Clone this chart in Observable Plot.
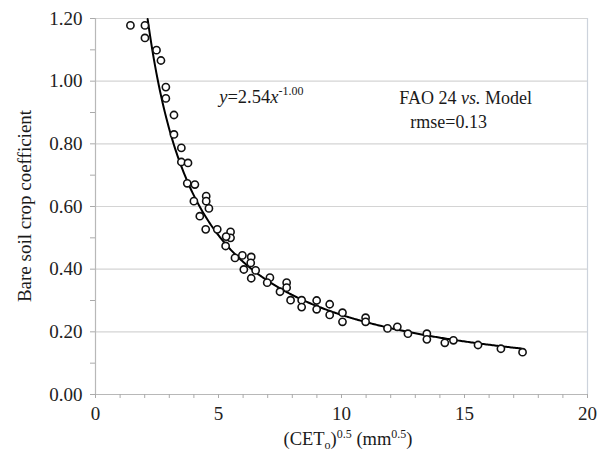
<!DOCTYPE html>
<html>
<head>
<meta charset="utf-8">
<script src="https://cdn.jsdelivr.net/npm/d3@7"></script>
<script src="https://cdn.jsdelivr.net/npm/@observablehq/plot@0.6"></script>
<style>
  html, body { margin: 0; padding: 0; background: #fff; }
  #chart svg { display: block; }
</style>
</head>
<body>
<div id="chart"></div>
<script>
// Observed points: sqrt(CETo) (mm^0.5) and bare soil crop coefficient
const obsX = [1.42, 2.01, 2.01, 2.48, 2.66, 2.86, 2.86, 3.19, 3.19, 3.49, 3.49, 3.76, 3.73, 4.04, 4.00,
  4.50, 4.50, 4.61, 4.24, 4.48, 4.95, 5.49, 5.49, 5.31, 5.29, 5.67, 5.97, 6.33, 6.31, 6.03, 6.51, 6.33,
  7.09, 6.98, 7.50, 7.77, 7.77, 7.93, 8.38, 8.38, 8.99, 8.99, 9.52, 9.52, 10.04, 10.04, 10.98, 10.98,
  11.87, 12.27, 12.70, 13.47, 13.47, 14.20, 14.55, 15.55, 16.48, 17.36];
const obsY = [1.178, 1.178, 1.138, 1.099, 1.066, 0.981, 0.945, 0.892, 0.830, 0.787, 0.742, 0.739, 0.674, 0.670, 0.617,
  0.633, 0.617, 0.594, 0.569, 0.527, 0.527, 0.519, 0.500, 0.504, 0.474, 0.436, 0.444, 0.439, 0.420, 0.399, 0.396, 0.371,
  0.373, 0.357, 0.328, 0.357, 0.341, 0.301, 0.301, 0.279, 0.300, 0.272, 0.288, 0.254, 0.261, 0.232, 0.245, 0.232,
  0.211, 0.216, 0.194, 0.194, 0.176, 0.165, 0.173, 0.158, 0.146, 0.135];

// Fitted power curve shown on the chart: y = 2.54 x^-1.00
const fitA = 2.54;
const fitB = -1.00;
const fitRange = [2.12, 17.3];

const xTicks = [0, 5, 10, 15, 20];
const xMinor = d3.range(0, 21, 1);
const yTicks = [0, 0.2, 0.4, 0.6, 0.8, 1.0, 1.2];
const yMinor = [0.1, 0.3, 0.5, 0.7, 0.9, 1.1];

const points = obsX.map((x, i) => ({x, y: obsY[i]}));
const curve = d3.range(0, 301).map(i => {
  const x = fitRange[0] + (fitRange[1] - fitRange[0]) * i / 300;
  return {x, y: fitA * Math.pow(x, fitB)};
});

const font = "'Liberation Serif', 'Times New Roman', serif";

const chart = Plot.plot({
  width: 599,
  height: 452,
  marginLeft: 95,
  marginRight: 12,
  marginTop: 18,
  marginBottom: 58,
  style: {fontFamily: font, fontSize: "19px", color: "#222", background: "#fff"},
  x: {domain: [0, 20]},
  y: {domain: [0, 1.2]},
  marks: [
    Plot.ruleY(yTicks.slice(1), {stroke: "#d4d4d4", strokeWidth: 1.2}),
    Plot.ruleX([20], {stroke: "#cdd3dc", strokeWidth: 1.2}),
    Plot.ruleY([0], {stroke: "#b8b8b8", strokeWidth: 1.2}),
    Plot.ruleX([0], {stroke: "#b8b8b8", strokeWidth: 1.2}),
    Plot.axisY({ticks: yTicks, tickFormat: d3.format(".2f"), tickSize: 5, tickPadding: 8, stroke: "#aaa", fill: "#222", label: null}),
    Plot.axisY({ticks: yMinor, tickFormat: () => "", tickSize: 5, stroke: "#aaa", label: null}),
    Plot.axisX({ticks: xTicks, tickSize: 4, tickPadding: 8, stroke: "#aaa", fill: "#222", label: null}),
    Plot.axisX({ticks: xMinor, tickFormat: () => "", tickSize: 4, stroke: "#aaa", label: null}),
    Plot.line(curve, {x: "x", y: "y", stroke: "#000", strokeWidth: 2}),
    Plot.dot(points, {x: "x", y: "y", r: 3.6, stroke: "#111", strokeWidth: 1.6, fill: "#fff"})
  ]
});

document.getElementById("chart").appendChild(chart);

// Annotations with sub/superscripts, positioned through the chart scales
const sx = chart.scale("x");
const sy = chart.scale("y");
const svg = d3.select(chart);
const g = svg.append("g").attr("font-family", font).attr("fill", "#1a1a1a").attr("text-anchor", "start");

// equation
const eq = g.append("text").attr("x", sx.apply(5.05)).attr("y", sy.apply(0.93)).attr("font-size", 18.5);
eq.append("tspan").attr("font-style", "italic").text("y");
eq.append("tspan").text("=2.54");
eq.append("tspan").attr("font-style", "italic").text("x");
eq.append("tspan").attr("font-size", 12).attr("dy", -8).text("-1.00");

const fao = g.append("text").attr("x", sx.apply(12.37)).attr("y", sy.apply(0.927)).attr("font-size", 18);
fao.append("tspan").text("FAO 24 ");
fao.append("tspan").attr("font-style", "italic").text("vs.");
fao.append("tspan").text(" Model");

g.append("text").attr("x", sx.apply(12.82)).attr("y", sy.apply(0.848)).attr("font-size", 18).text("rmse=0.13");

// x-axis label
const xl = g.append("text").attr("x", 348).attr("y", 445)
  .attr("text-anchor", "middle").attr("font-size", 18.5);
xl.append("tspan").text("(CET");
xl.append("tspan").attr("font-size", 12).attr("dy", 4).text("o");
xl.append("tspan").attr("dy", -4).text(")");
xl.append("tspan").attr("font-size", 12).attr("dy", -7).text("0.5");
xl.append("tspan").attr("dy", 7).text(" (mm");
xl.append("tspan").attr("font-size", 12).attr("dy", -7).text("0.5");
xl.append("tspan").attr("dy", 7).text(")");

// y-axis label
g.append("text")
  .attr("transform", `translate(31,${(sy.apply(0) + sy.apply(1.2)) / 2}) rotate(-90)`)
  .attr("text-anchor", "middle").attr("font-size", 19)
  .text("Bare soil crop coefficient");
</script>
</body>
</html>
